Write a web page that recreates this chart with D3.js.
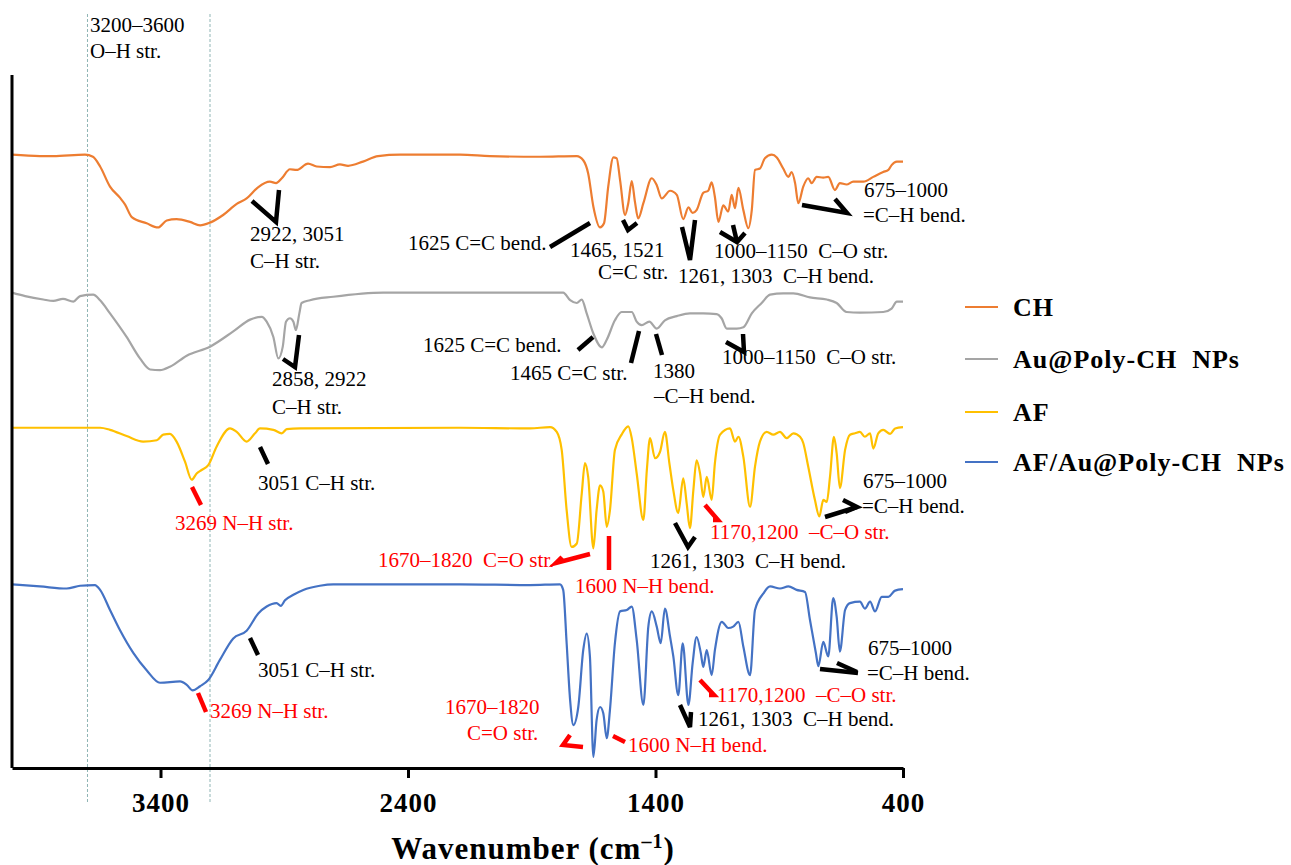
<!DOCTYPE html>
<html>
<head>
<meta charset="utf-8">
<script src="https://cdn.jsdelivr.net/npm/d3@7"></script>
<style>
  body { margin: 0; background: #fff; }
  svg text { font-family: "Liberation Serif", Tinos, "Times New Roman", Times, serif; white-space: pre; }
</style>
</head>
<body>
<svg id="chart" width="1291" height="865"></svg>
<script>
// FTIR spectra, stacked (transmittance, arbitrary offsets)
const seriesNames = ["CH", "Au@Poly-CH  NPs", "AF", "AF/Au@Poly-CH  NPs"];
const seriesColors = ["#ED7D31", "#A5A5A5", "#FFC000", "#4472C4"];
const xTicks = [3400, 2400, 1400, 400];
const ohRegion = [3695, 3200];

const chData = [[4000,88.5],[3887,88.3],[3834,88.3],[3705,88.5],[3673,88.2],[3644,86.8],[3604,83.9],[3564,82.3],[3543,81.3],[3516,79.5],[3456,78.6],[3410,78.0],[3375,79.0],[3335,79.2],[3281,78.8],[3240,78.3],[3200,78.7],[3147,79.8],[3092,81.4],[3052,82.2],[3006,83.8],[2958,84.6],[2933,84.4],[2910,85.1],[2877,86.4],[2850,86.3],[2804,87.2],[2769,86.8],[2715,86.7],[2675,87.1],[2642,86.9],[2582,87.5],[2521,88.3],[2432,88.5],[2190,88.5],[2069,88.3],[1867,88.2],[1718,88.3],[1692,87.7],[1672,85.8],[1651,81.0],[1624,78.0],[1608,78.6],[1591,83.9],[1570,88.1],[1557,88.0],[1543,84.8],[1523,79.8],[1510,81.5],[1496,84.7],[1483,81.7],[1470,79.3],[1449,81.5],[1415,85.1],[1395,84.1],[1375,82.2],[1341,83.3],[1314,82.7],[1288,79.2],[1267,80.9],[1250,80.1],[1234,80.5],[1207,83.0],[1187,83.3],[1173,84.5],[1160,82.4],[1146,78.8],[1126,81.2],[1106,80.3],[1092,82.7],[1079,80.8],[1065,83.7],[1045,80.5],[1025,77.9],[1011,80.5],[998,86.3],[978,86.5],[958,88.0],[930,88.5],[910,88.1],[884,86.5],[863,85.3],[850,86.0],[836,84.4],[823,81.5],[803,83.9],[783,85.1],[769,84.4],[749,85.3],[722,85.2],[702,85.3],[675,83.4],[655,84.4],[628,84.2],[601,84.6],[560,84.6],[520,85.3],[480,86.0],[459,86.3],[446,87.0],[425,87.5],[400,87.5]];

const auData = [[4000,68.6],[3947,68.1],[3874,67.6],[3833,67.4],[3794,67.7],[3752,67.3],[3725,68.1],[3672,68.3],[3644,67.5],[3604,65.6],[3537,62.2],[3483,59.1],[3442,57.5],[3402,57.4],[3362,57.9],[3294,59.5],[3200,60.8],[3106,63.0],[3038,64.7],[2991,65.1],[2971,64.4],[2944,62.2],[2924,59.1],[2906,60.8],[2893,64.4],[2877,64.9],[2863,64.4],[2853,63.2],[2839,65.6],[2830,67.1],[2796,67.5],[2702,68.0],[2500,68.6],[2190,68.6],[1773,68.6],[1745,67.5],[1718,67.1],[1698,67.6],[1678,65.6],[1651,62.7],[1617,60.7],[1597,61.8],[1564,64.6],[1537,65.8],[1496,65.8],[1476,64.4],[1456,63.9],[1425,64.4],[1395,63.4],[1362,64.6],[1314,65.2],[1261,65.6],[1207,65.6],[1153,65.5],[1133,64.9],[1112,63.4],[1072,63.4],[1045,63.6],[1011,65.6],[971,67.1],[937,68.3],[884,68.5],[843,68.5],[776,67.9],[708,67.6],[668,67.1],[628,65.8],[574,65.7],[480,65.8],[446,66.3],[425,67.3],[400,67.3]];

const afData = [[4000,49.1],[3644,49.1],[3604,48.8],[3537,47.9],[3470,47.1],[3415,47.3],[3389,48.1],[3362,48.2],[3335,47.1],[3301,44.2],[3274,41.6],[3254,42.5],[3234,43.0],[3207,43.7],[3173,46.4],[3119,49.0],[3092,48.5],[3052,47.1],[3018,48.3],[2998,49.0],[2944,48.8],[2910,48.3],[2890,48.9],[2836,49.0],[2190,49.1],[1907,49.0],[1826,49.2],[1799,48.5],[1779,45.9],[1759,37.2],[1739,31.9],[1718,32.4],[1698,39.6],[1685,44.0],[1672,42.0],[1651,31.7],[1638,37.2],[1624,40.8],[1611,39.9],[1597,34.8],[1584,37.2],[1564,45.9],[1537,48.1],[1510,49.3],[1496,47.6],[1476,42.5],[1449,35.8],[1435,43.0],[1422,47.6],[1402,44.7],[1382,45.6],[1362,48.5],[1344,44.0],[1328,40.1],[1308,36.8],[1288,41.8],[1274,38.2],[1261,34.6],[1247,40.1],[1234,44.4],[1220,42.5],[1207,39.1],[1193,42.0],[1173,38.7],[1160,44.0],[1139,48.1],[1099,49.0],[1079,47.1],[1065,47.8],[1045,44.9],[1018,37.7],[998,43.5],[978,47.1],[951,48.5],[924,48.1],[897,48.5],[870,47.6],[843,48.3],[816,47.8],[803,46.9],[783,43.5],[756,38.7],[738,36.3],[722,38.7],[708,38.4],[695,42.0],[679,47.8],[668,45.4],[655,40.4],[634,45.9],[614,48.1],[594,48.3],[574,48.5],[554,47.8],[533,48.3],[520,46.1],[500,48.3],[480,48.8],[452,48.2],[432,49.0],[400,49.2]];

const afAuData = [[4000,26.5],[3887,26.2],[3779,25.9],[3725,26.3],[3665,26.4],[3644,25.7],[3604,22.8],[3564,19.9],[3510,16.6],[3456,14.1],[3402,12.3],[3321,12.5],[3294,12.0],[3270,11.2],[3240,11.8],[3207,12.7],[3160,15.6],[3106,18.7],[3052,19.8],[3005,22.3],[2971,23.3],[2931,23.8],[2914,23.4],[2897,24.2],[2863,25.0],[2823,25.7],[2756,26.3],[2702,26.5],[2190,26.5],[1907,26.4],[1786,26.5],[1773,25.7],[1759,18.0],[1745,9.8],[1732,6.2],[1712,8.8],[1692,17.0],[1678,19.4],[1665,16.1],[1651,1.6],[1638,6.9],[1624,8.8],[1611,7.9],[1597,4.3],[1584,8.4],[1564,18.0],[1543,22.6],[1516,22.8],[1496,23.3],[1476,18.5],[1449,9.1],[1429,20.4],[1415,22.6],[1395,20.4],[1379,18.0],[1362,23.0],[1341,18.9],[1328,16.1],[1308,10.5],[1290,18.0],[1267,9.1],[1250,15.1],[1234,18.9],[1217,16.6],[1207,14.6],[1193,17.0],[1173,13.4],[1160,17.0],[1132,21.1],[1106,20.2],[1086,20.4],[1065,21.1],[1045,17.5],[1018,13.4],[998,22.8],[964,25.2],[937,26.2],[897,25.9],[863,26.2],[830,25.7],[796,25.4],[776,21.4],[752,16.6],[742,14.7],[722,18.2],[702,16.1],[682,24.5],[668,21.8],[655,16.8],[634,22.8],[614,23.8],[574,24.0],[554,23.0],[533,24.0],[513,22.6],[486,24.7],[459,24.7],[432,25.6],[400,25.8]];

const allSeries = [chData, auData, afData, afAuData];

// annotation layout (pixel positions)
const RED = "#FF0000";
const labels = [
	{ t: "3200–3600", x: 90, y: 32 }, { t: "O–H str.", x: 90, y: 58 },
	{ t: "2922, 3051", x: 250, y: 241 }, { t: "C–H str.", x: 250, y: 268 },
	{ t: "1625 C=C bend.", x: 408, y: 250 },
	{ t: "1465, 1521", x: 570, y: 257 }, { t: "C=C str.", x: 598, y: 279 },
	{ t: "1261, 1303  C–H bend.", x: 678, y: 283 },
	{ t: "1000–1150  C–O str.", x: 714, y: 258 },
	{ t: "675–1000", x: 864, y: 197 }, { t: "=C–H bend.", x: 863, y: 222 },
	{ t: "2858, 2922", x: 272, y: 386 }, { t: "C–H str.", x: 272, y: 414 },
	{ t: "1625 C=C bend.", x: 423, y: 352 },
	{ t: "1465 C=C str.", x: 510, y: 380 },
	{ t: "1380", x: 653, y: 378 }, { t: "–C–H bend.", x: 654, y: 403 },
	{ t: "1000–1150  C–O str.", x: 722, y: 364 },
	{ t: "3269 N–H str.", x: 175, y: 530, c: RED },
	{ t: "3051 C–H str.", x: 258, y: 490 },
	{ t: "1670–1820  C=O str.", x: 378, y: 567, c: RED },
	{ t: "1600 N–H bend.", x: 575, y: 593, c: RED },
	{ t: "1261, 1303  C–H bend.", x: 650, y: 568 },
	{ t: "1170,1200  –C–O str.", x: 710, y: 539, c: RED },
	{ t: "675–1000", x: 863, y: 488 }, { t: "=C–H bend.", x: 862, y: 513 },
	{ t: "3269 N–H str.", x: 210, y: 718, c: RED },
	{ t: "3051 C–H str.", x: 258, y: 677 },
	{ t: "1670–1820", x: 445, y: 714, c: RED }, { t: "C=O str.", x: 467, y: 740, c: RED },
	{ t: "1600 N–H bend.", x: 628, y: 752, c: RED },
	{ t: "1261, 1303  C–H bend.", x: 698, y: 726 },
	{ t: "1170,1200  –C–O str.", x: 717, y: 702, c: RED },
	{ t: "675–1000", x: 868, y: 655 }, { t: "=C–H bend.", x: 867, y: 680 }
];
const leaders = [
	{ p: [[252,201],[276,222],[279,190]] },
	{ p: [[550,247],[590,223]] },
	{ p: [[623,220],[628,230],[637,223]] },
	{ p: [[682,227],[690,260],[695,220]] },
	{ p: [[720,232],[737,242],[745,233]] }, { p: [[733,225],[737,242]] },
	{ p: [[802,205],[847,213],[835,199]] },
	{ p: [[283,359],[295,367],[299,335]] },
	{ p: [[578,350],[593,337]] },
	{ p: [[631,363],[639,331]] },
	{ p: [[656,334],[662,355]] },
	{ p: [[726,342],[744,352],[743,334]] },
	{ p: [[192,487],[201,505]], c: RED },
	{ p: [[260,447],[268,464]] },
	{ p: [[590,554],[556,563],[562,557]], c: RED },
	{ p: [[609,536],[609,570]], c: RED },
	{ p: [[675,523],[688,547],[695,537]] },
	{ p: [[705,505],[718,520],[713,520]], c: RED },
	{ p: [[825,517],[857,507],[843,500]] }, { p: [[845,512],[857,507]] },
	{ p: [[198,693],[206,712]], c: RED },
	{ p: [[250,638],[258,655]] },
	{ p: [[570,735],[563,745],[583,747]], c: RED },
	{ p: [[613,736],[625,742]], c: RED },
	{ p: [[680,705],[690,727],[691,712]] },
	{ p: [[700,680],[714,695],[709,695]], c: RED },
	{ p: [[820,669],[858,673]] }, { p: [[837,663],[857,672]] }
];

const svg = d3.select("#chart");
svg.append("rect").attr("width", 1291).attr("height", 865).attr("fill", "#fff");

const x = d3.scaleLinear().domain([4000, 400]).range([12, 903]);
const y = d3.scaleLinear().domain([0, 100]).range([768, 75]);

// O-H region guides
svg.selectAll(".guide")
	.data(ohRegion)
	.enter()
	.append("line")
	.attr("x1", (d) => x(d)).attr("x2", (d) => x(d))
	.attr("y1", 14).attr("y2", 802)
	.attr("stroke", "#8FB5B5")
	.attr("stroke-width", 1)
	.attr("stroke-dasharray", "3,2");

// spectra
const line = d3.line().curve(d3.curveMonotoneX).x((d) => x(d[0])).y((d) => y(d[1]));
svg.selectAll(".spec")
	.data(allSeries)
	.enter()
	.append("path")
	.attr("fill", "none")
	.attr("stroke", (d, i) => seriesColors[i])
	.attr("stroke-width", 2.2)
	.attr("stroke-linejoin", "round")
	.attr("d", line);

// axes
svg.append("line")
	.attr("x1", 12).attr("x2", 12)
	.attr("y1", y(100)).attr("y2", y(0))
	.attr("stroke", "#000").attr("stroke-width", 3);

const xAxis = svg.append("g")
	.attr("transform", `translate(0, ${y(0)})`)
	.call(d3.axisBottom(x).tickValues(xTicks).tickFormat(d3.format("d")).tickSize(10).tickSizeOuter(0).tickPadding(15));
xAxis.attr("font-family", null);
xAxis.select(".domain").attr("stroke", "#000").attr("stroke-width", 3);
xAxis.selectAll(".tick line").attr("stroke", "#000").attr("stroke-width", 3);
xAxis.selectAll(".tick text")
	.attr("fill", "#000")
	.style("font-size", "27px")
	.style("font-weight", "bold")
	.style("letter-spacing", "1px");

svg.append("text")
	.attr("x", 533).attr("y", 859)
	.attr("text-anchor", "middle")
	.style("font-size", "31px")
	.style("font-weight", "bold")
	.style("letter-spacing", "1px")
	.text("Wavenumber (cm")
	.append("tspan").attr("dy", -11).style("font-size", "20px").text("–1")
	.select(function () { return this.parentNode; })
	.append("tspan").attr("dy", 11).text(")");

// annotations
svg.selectAll(".lbl")
	.data(labels)
	.enter()
	.append("text")
	.attr("x", (d) => d.x).attr("y", (d) => d.y)
	.attr("fill", (d) => d.c || "#000")
	.style("font-size", "21px")
	.text((d) => d.t);

svg.selectAll(".lead")
	.data(leaders)
	.enter()
	.append("polyline")
	.attr("points", (d) => d.p.map((q) => q.join(",")).join(" "))
	.attr("fill", "none")
	.attr("stroke", (d) => d.c || "#000")
	.attr("stroke-width", 4.5)
	.attr("stroke-linejoin", "miter");

// legend
const legend = svg.append("g").attr("transform", "translate(965, 307)");
const rows = legend.selectAll("g")
	.data(seriesNames)
	.enter()
	.append("g")
	.attr("transform", (d, i) => `translate(0, ${[0, 52, 105, 155][i]})`);
rows.append("line")
	.attr("x1", 0).attr("x2", 33)
	.attr("stroke", (d, i) => seriesColors[i])
	.attr("stroke-width", 2.2);
rows.append("text")
	.attr("x", 48).attr("y", 9)
	.style("font-size", "26px")
	.style("font-weight", "bold")
	.style("letter-spacing", "1px")
	.text((d) => d);
</script>
</body>
</html>
